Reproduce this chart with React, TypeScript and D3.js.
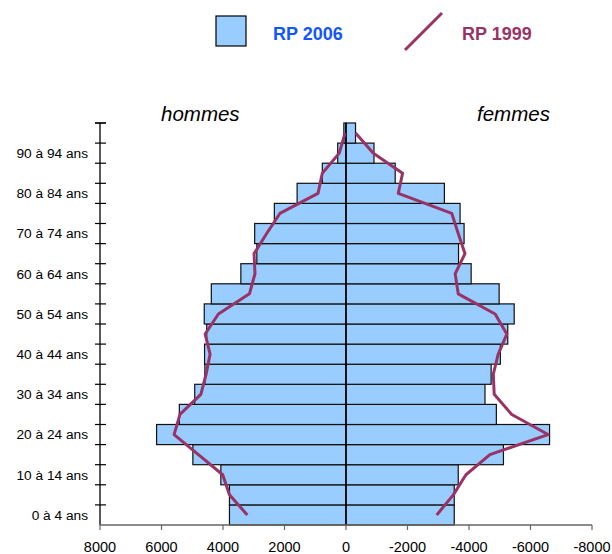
import React from "react";
import * as d3 from "d3";

const ageGroups = [
  "0 à 4 ans", "5 à 9 ans", "10 à 14 ans", "15 à 19 ans", "20 à 24 ans",
  "25 à 29 ans", "30 à 34 ans", "35 à 39 ans", "40 à 44 ans", "45 à 49 ans",
  "50 à 54 ans", "55 à 59 ans", "60 à 64 ans", "65 à 69 ans", "70 à 74 ans",
  "75 à 79 ans", "80 à 84 ans", "85 à 89 ans", "90 à 94 ans", "95 ans ou plus",
];
const hommes2006 = [3790, 3790, 4070, 4980, 6160, 5420, 4920, 4590, 4600, 4530, 4610, 4380, 3420, 2900, 2970, 2330, 1590, 770, 270, 70];
const femmes2006 = [3520, 3520, 3650, 5120, 6620, 4890, 4520, 4720, 5020, 5260, 5470, 4980, 4070, 3660, 3840, 3710, 3200, 1600, 910, 310];
const hommes1999 = [3210, 3790, 4010, 4800, 5590, 5400, 4720, 4550, 4420, 4580, 4150, 3140, 2960, 2990, 2580, 2150, 910, 770, 220, 30];
const femmes1999 = [2950, 3490, 3900, 4680, 6570, 5390, 4820, 4790, 4950, 5230, 4850, 3650, 3550, 3870, 3650, 3440, 1700, 1840, 890, 310];
const xTicks = [8000, 6000, 4000, 2000, 0, -2000, -4000, -6000, -8000];
const labelledGroups = ageGroups.filter((_, i) => i % 2 === 0 && i < 19);

const FONT = "'Liberation Sans', Arial, sans-serif";
const BAR = "#99CCFF";
const LINE = "#993366";

export default function App() {
  const x = d3.scaleLinear().domain([8000, -8000]).range([100, 592]);
  const y = d3.scaleBand<string>().domain(ageGroups).range([525, 123]).padding(0);
  const bw = y.bandwidth();
  const cy = (g: string) => (y(g) as number) + bw / 2;

  const lineGen = d3
    .line<[string, number]>()
    .x((d) => x(d[1]))
    .y((d) => cy(d[0]));

  const menLine = lineGen(ageGroups.map((g, i) => [g, hommes1999[i]] as [string, number]));
  const womenLine = lineGen(ageGroups.map((g, i) => [g, -femmes1999[i]] as [string, number]));

  const boundaries = ageGroups.map((g) => y(g) as number).concat([y.range()[1]]);

  return (
    <svg width={612} height={554} style={{ position: "absolute", left: 0, top: 0 }} fontFamily={FONT}>
      <rect width={612} height={554} fill="#fff" />
      {/* legend */}
      <rect x={216} y={16} width={30} height={30} fill={BAR} stroke="#000" strokeWidth={1.2} />
      <text x={273} y={40} fontSize={18} fontWeight="bold" fill="#1155FF">RP 2006</text>
      <line x1={405} y1={50} x2={442} y2={13} stroke={LINE} strokeWidth={3} />
      <text x={462} y={40} fontSize={18} fontWeight="bold" fill={LINE}>RP 1999</text>

      <text x={161} y={121} fontSize={20.5} fontStyle="italic" fill="#000">hommes</text>
      <text x={477} y={121} fontSize={20.5} fontStyle="italic" fill="#000">femmes</text>

      {/* bars */}
      {ageGroups.map((g, i) => (
        <g key={g}>
          <rect x={x(hommes2006[i])} y={y(g)} width={x(0) - x(hommes2006[i])} height={bw}
            fill={BAR} stroke="#111" strokeWidth={1.2} />
          <rect x={x(0)} y={y(g)} width={x(-femmes2006[i]) - x(0)} height={bw}
            fill={BAR} stroke="#111" strokeWidth={1.2} />
        </g>
      ))}

      {/* center axis */}
      <line x1={x(0)} x2={x(0)} y1={123} y2={525} stroke="#000" strokeWidth={1.5} />

      {/* lines */}
      <path d={menLine || ""} fill="none" stroke={LINE} strokeWidth={3} strokeLinejoin="round" />
      <path d={womenLine || ""} fill="none" stroke={LINE} strokeWidth={3} strokeLinejoin="round" />

      {/* left axis */}
      <line x1={100} x2={100} y1={123} y2={525} stroke="#000" strokeWidth={1.3} />
      {boundaries.map((b, i) => (
        <line key={i} x1={95} x2={106} y1={b} y2={b} stroke="#000" strokeWidth={1.2} />
      ))}
      {labelledGroups.map((g) => (
        <text key={g} x={88} y={cy(g)} dy="0.36em" fontSize={13.7} textAnchor="end" fill="#000">{g}</text>
      ))}

      {/* bottom axis */}
      <line x1={100} x2={592} y1={525} y2={525} stroke="#666" strokeWidth={1.3} />
      {xTicks.map((t) => (
        <g key={t}>
          <line x1={x(t)} x2={x(t)} y1={525} y2={530} stroke="#666" strokeWidth={1.2} />
          <text x={x(t)} y={547} dy="0.36em" fontSize={14.5} textAnchor="middle" fill="#000">{t}</text>
        </g>
      ))}
    </svg>
  );
}
